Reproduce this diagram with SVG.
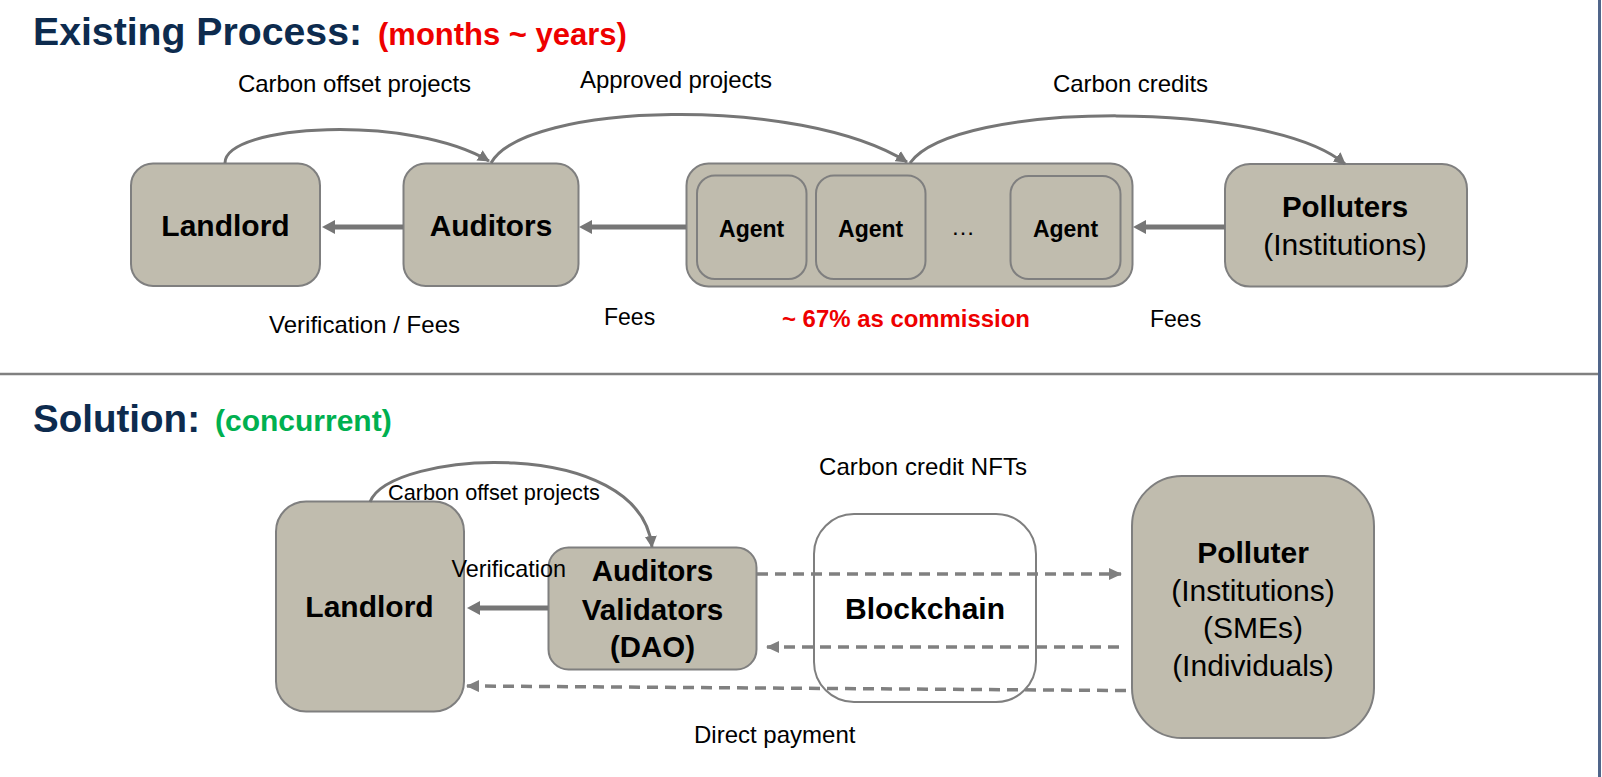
<svg xmlns="http://www.w3.org/2000/svg" width="1602" height="777" viewBox="0 0 1602 777">
<defs>
<style>
.box{fill:#C0BCAE;stroke:#7F7F7F;stroke-width:2}
.wbox{fill:#FFFFFF;stroke:#7F7F7F;stroke-width:2}
.t{font-family:"Liberation Sans",Arial,sans-serif;fill:#000000}
.b{font-weight:bold}
.m{text-anchor:middle}
.thick{stroke:#767676;stroke-width:5;fill:none}
.curve{stroke:#767676;stroke-width:3;fill:none}
.dash{stroke:#808080;stroke-width:3.5;fill:none;stroke-dasharray:11 7}
.navy{fill:#0D2B4E}
</style>
<marker id="aT" viewBox="0 0 13 14" markerUnits="userSpaceOnUse" markerWidth="13" markerHeight="14" refX="4" refY="7" orient="auto"><path d="M0,0 L13,7 L0,14 z" fill="#767676"/></marker>
<marker id="aC" viewBox="0 0 12 12" markerUnits="userSpaceOnUse" markerWidth="12" markerHeight="12" refX="11" refY="6" orient="auto"><path d="M0,0 L12,6 L0,12 z" fill="#767676"/></marker>
<marker id="aD" viewBox="0 0 13 12" markerUnits="userSpaceOnUse" markerWidth="13" markerHeight="12" refX="12" refY="6" orient="auto"><path d="M0,0 L13,6 L0,12 z" fill="#808080"/></marker>
</defs>
<rect x="0" y="0" width="1602" height="777" fill="#FFFFFF"/>

<g id="frame">
<line x1="0" y1="374" x2="1598" y2="374" stroke="#808080" stroke-width="2.5"/>
<line x1="1599.5" y1="0" x2="1599.5" y2="777" stroke="#50658A" stroke-width="3"/>
</g>

<g id="titles">
<text class="t b navy" x="33" y="45" font-size="38.5" textLength="329" lengthAdjust="spacingAndGlyphs">Existing Process:</text>
<text class="t b" x="378" y="45" font-size="31" style="fill:#EE0000">(months ~ years)</text>
<text class="t b navy" x="33" y="432" font-size="38.5" textLength="167" lengthAdjust="spacingAndGlyphs">Solution:</text>
<text class="t b" x="215" y="431" font-size="30" style="fill:#00B050">(concurrent)</text>
</g>

<!-- Existing process nodes -->
<g id="landlord-top">
<rect class="box" x="131" y="163.5" width="189" height="122.5" rx="22"/>
<text class="t b m" x="225.5" y="236" font-size="30">Landlord</text>
</g>
<g id="auditors-top">
<rect class="box" x="403.5" y="163.5" width="175" height="122.5" rx="22"/>
<text class="t b m" x="491" y="236" font-size="29.8">Auditors</text>
</g>
<g id="agents">
<rect class="box" x="686.5" y="163.5" width="446" height="123" rx="22"/>
<g id="agent1">
<rect class="box" x="697" y="175.5" width="109.5" height="103.5" rx="18"/>
<text class="t b m" x="751.7" y="236.5" font-size="23">Agent</text>
</g>
<g id="agent2">
<rect class="box" x="816" y="175.5" width="109.5" height="103.5" rx="18"/>
<text class="t b m" x="870.7" y="236.5" font-size="23">Agent</text>
</g>
<text class="t m" x="963" y="235" font-size="24">…</text>
<g id="agent3">
<rect class="box" x="1010.5" y="176" width="110" height="103" rx="18"/>
<text class="t b m" x="1065.5" y="236.5" font-size="23">Agent</text>
</g>
</g>
<g id="polluters-top">
<rect class="box" x="1225" y="164" width="242" height="122.5" rx="25"/>
<text class="t b m" x="1345" y="216.5" font-size="29.5">Polluters</text>
<text class="t m" x="1345" y="255" font-size="30">(Institutions)</text>
</g>

<!-- Solution nodes -->
<g id="landlord-bottom">
<rect class="box" x="276" y="501.5" width="188" height="210" rx="30"/>
<text class="t b m" x="369.5" y="617" font-size="30">Landlord</text>
</g>
<g id="auditors-validators">
<rect class="box" x="548.5" y="547.5" width="208" height="122" rx="20"/>
</g>
<g id="blockchain">
<rect class="wbox" x="814" y="514" width="222" height="188" rx="40"/>
<text class="t b m" x="925" y="618.5" font-size="30">Blockchain</text>
</g>
<g id="polluter-bottom">
<rect class="box" x="1132" y="476" width="242" height="262" rx="50"/>
<text class="t b m" x="1253" y="563" font-size="30">Polluter</text>
<text class="t m" x="1253" y="601" font-size="30">(Institutions)</text>
<text class="t m" x="1253" y="638" font-size="30">(SMEs)</text>
<text class="t m" x="1253" y="676" font-size="30">(Individuals)</text>
</g>

<g id="connectors">
<path class="thick" d="M403,227 L331,227" marker-end="url(#aT)"/>
<path class="thick" d="M686,227 L588,227" marker-end="url(#aT)"/>
<path class="thick" d="M1225,227 L1142,227" marker-end="url(#aT)"/>
<path class="curve" d="M225,163 C225,124 410,114 489,161" marker-end="url(#aC)"/>
<path class="curve" d="M491,163 C525,102 800,95 907,162" marker-end="url(#aC)"/>
<path class="curve" d="M910,163 C955,100 1270,100 1345,164" marker-end="url(#aC)"/>
<path class="thick" d="M548,608 L476,608" marker-end="url(#aT)"/>
<path class="curve" d="M370,502 C390,450 640,435 652,547" marker-end="url(#aC)"/>
<path class="dash" d="M757,574 L1121,574" marker-end="url(#aD)"/>
<path class="dash" d="M1119,647 L767,647" marker-end="url(#aD)"/>
<path class="dash" d="M1126,690.5 L467,686" marker-end="url(#aD)"/>
</g>

<g id="labels">
<text class="t" x="238" y="91.5" font-size="24" textLength="233" lengthAdjust="spacing">Carbon offset projects</text>
<text class="t" x="580" y="88" font-size="24" textLength="192" lengthAdjust="spacing">Approved projects</text>
<text class="t" x="1053" y="91.5" font-size="24" textLength="155" lengthAdjust="spacing">Carbon credits</text>
<text class="t" x="269" y="332.5" font-size="24" textLength="191" lengthAdjust="spacing">Verification  / Fees</text>
<text class="t" x="604" y="325" font-size="23">Fees</text>
<text class="t b" x="782" y="327" font-size="23" textLength="248" lengthAdjust="spacingAndGlyphs" style="fill:#EE0000">~ 67% as commission</text>
<text class="t" x="1150" y="326.5" font-size="23">Fees</text>
<text class="t" x="819" y="475" font-size="24" textLength="208" lengthAdjust="spacing">Carbon credit NFTs</text>
<text class="t" x="388" y="500" font-size="21.7">Carbon offset projects</text>
<text class="t" x="451.5" y="577" font-size="23.4">Verification</text>
<text class="t b m" x="652.5" y="580.5" font-size="29.6">Auditors</text>
<text class="t b m" x="652.5" y="620" font-size="29.6">Validators</text>
<text class="t b m" x="652.5" y="656.5" font-size="29.4">(DAO)</text>
<text class="t" x="694" y="743" font-size="24">Direct payment</text>
</g>
</svg>
